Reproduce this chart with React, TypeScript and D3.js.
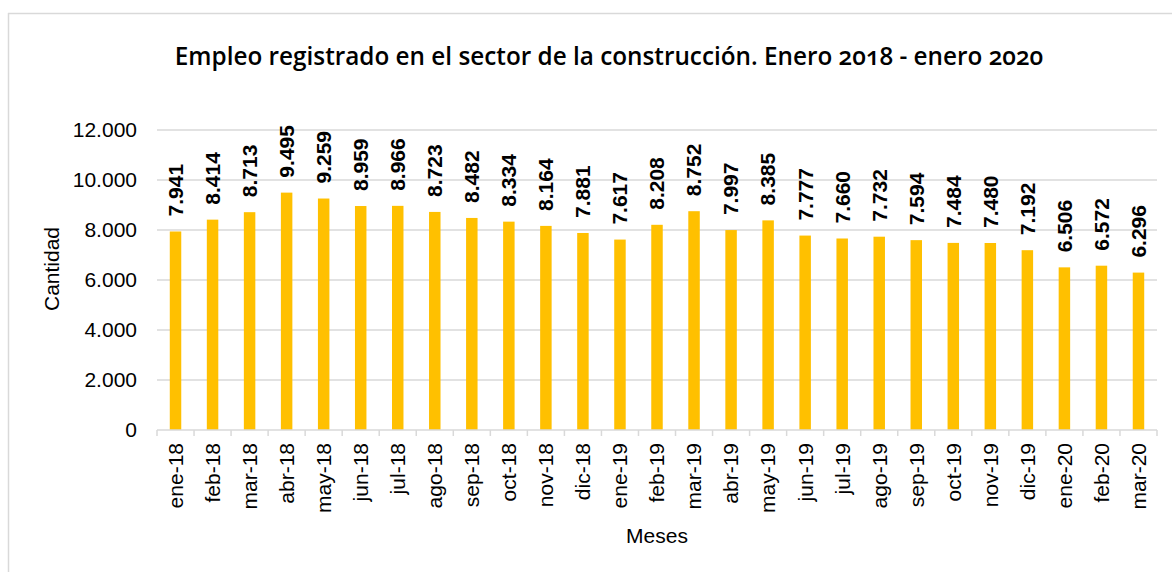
import React from "react";
import * as d3 from "d3";

const categories = [
  "ene-18", "feb-18", "mar-18", "abr-18", "may-18", "jun-18", "jul-18", "ago-18", "sep-18", "oct-18", "nov-18", "dic-18",
  "ene-19", "feb-19", "mar-19", "abr-19", "may-19", "jun-19", "jul-19", "ago-19", "sep-19", "oct-19", "nov-19", "dic-19",
  "ene-20", "feb-20", "mar-20",
];
const values = [
  7941, 8414, 8713, 9495, 9259, 8959, 8966, 8723, 8482, 8334, 8164, 7881,
  7617, 8208, 8752, 7997, 8385, 7777, 7660, 7732, 7594, 7484, 7480, 7192,
  6506, 6572, 6296,
];
const yTicks = [0, 2000, 4000, 6000, 8000, 10000, 12000];
const title = "Empleo registrado en el sector de la construcción. Enero 2018 - enero 2020";
const yTitle = "Cantidad";
const xTitle = "Meses";

const W = 1172;
const H = 572;
const plot = { left: 157, right: 1157, top: 130, bottom: 430 };
const font = "'Liberation Sans', Arial, sans-serif";
const grid = "#D9D9D9";
const barColor = "#FFC000";

const fmt = (v: number) => d3.format(",")(v).replace(/,/g, ".");

export default function App() {
  const x = d3.scaleBand<string>().domain(categories).range([plot.left, plot.right]).padding(0);
  const y = d3.scaleLinear().domain([0, 12000]).range([plot.bottom, plot.top]);
  const bw = x.bandwidth() * 0.31;
  const boundaries = categories.map((c) => x(c) as number).concat([plot.right]);

  return (
    <svg width={W} height={H} style={{ position: "absolute", left: 0, top: 0, background: "#fff" }}>
      <rect x={0} y={0} width={W} height={H} fill="#fff" />
      {/* frame */}
      <line x1={8} y1={13.5} x2={W} y2={13.5} stroke={grid} strokeWidth={1.5} />
      <line x1={8.5} y1={13} x2={8.5} y2={H} stroke={grid} strokeWidth={1.5} />

      <text
        x={609}
        y={65}
        textAnchor="middle"
        fontFamily="'Open Sans', 'Noto Sans', sans-serif"
        fontWeight={600}
        fontSize={24.3}
        style={{ fontVariantNumeric: "oldstyle-nums" }}
        fill="#000"
      >
        {title}
      </text>

      {/* gridlines */}
      {yTicks.filter((t) => t > 0).map((t) => (
        <line key={t} x1={plot.left} x2={plot.right} y1={y(t)} y2={y(t)} stroke={grid} strokeWidth={1.5} />
      ))}
      {/* y tick labels */}
      {yTicks.map((t) => (
        <text key={t} x={137} y={y(t)} dy="0.35em" textAnchor="end" fontFamily={font} fontSize={21} fill="#000">
          {fmt(t)}
        </text>
      ))}

      {/* bars */}
      {values.map((v, i) => {
        const cx = (x(categories[i]) as number) + x.bandwidth() / 2;
        return (
          <rect key={i} x={cx - bw / 2} y={y(v)} width={bw} height={y(0) - y(v)} fill={barColor} />
        );
      })}

      {/* axis */}
      <line x1={plot.left} x2={plot.right} y1={plot.bottom} y2={plot.bottom} stroke={grid} strokeWidth={1.5} />
      {boundaries.map((b, i) => (
        <line key={i} x1={b} x2={b} y1={plot.bottom} y2={plot.bottom + 6} stroke={grid} strokeWidth={1.5} />
      ))}

      {/* value labels */}
      {values.map((v, i) => {
        const cx = (x(categories[i]) as number) + x.bandwidth() / 2;
        const yy = y(v) - 15;
        return (
          <text
            key={i}
            transform={`translate(${cx},${yy}) rotate(-90)`}
            dy="0.35em"
            textAnchor="start"
            fontFamily={font}
            fontWeight="bold"
            fontSize={21}
            fill="#000"
          >
            {fmt(v)}
          </text>
        );
      })}

      {/* x labels */}
      {categories.map((c) => {
        const cx = (x(c) as number) + x.bandwidth() / 2;
        return (
          <text
            key={c}
            transform={`translate(${cx},${443}) rotate(-90)`}
            dy="0.35em"
            textAnchor="end"
            fontFamily={font}
            fontSize={21}
            fill="#000"
          >
            {c}
          </text>
        );
      })}

      <text
        transform={`translate(52,269) rotate(-90)`}
        dy="0.35em"
        textAnchor="middle"
        fontFamily={font}
        fontSize={21}
        fill="#000"
      >
        {yTitle}
      </text>
      <text x={(plot.left + plot.right) / 2} y={543} textAnchor="middle" fontFamily={font} fontSize={21} fill="#000">
        {xTitle}
      </text>
    </svg>
  );
}
